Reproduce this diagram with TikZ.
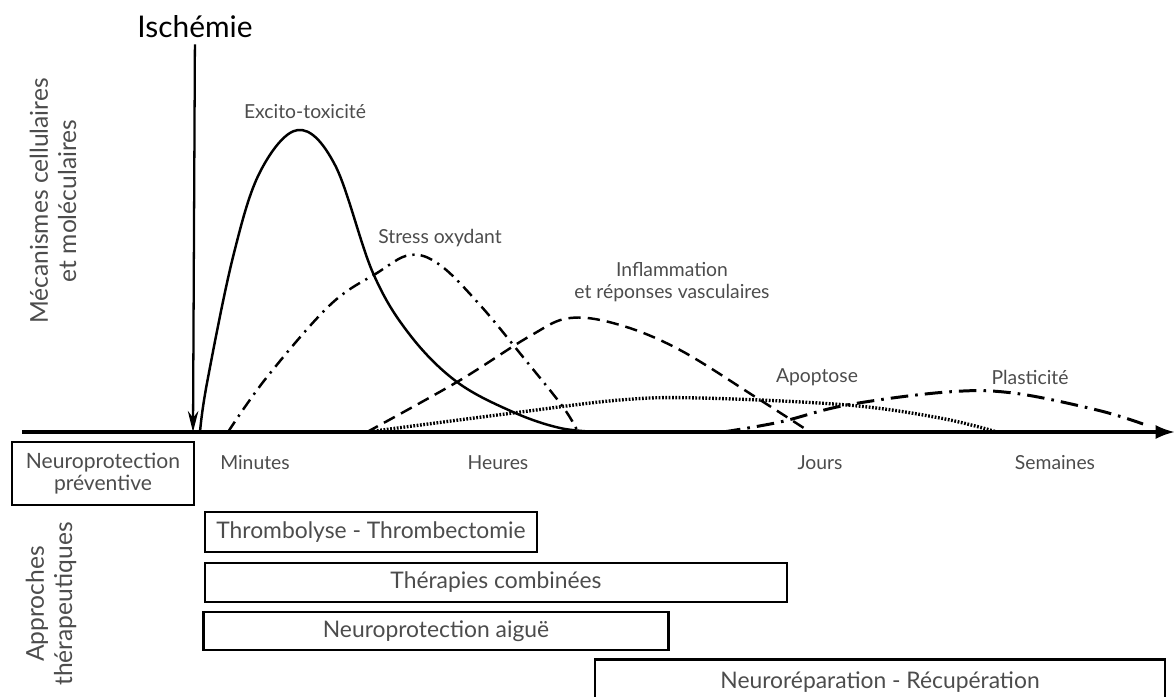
\documentclass[tikz,border=0pt]{standalone}
\usepackage{fontspec}
\setmainfont{Lato}
\usetikzlibrary{arrows.meta}
\begin{document}
\begin{tikzpicture}[x=0.02cm,y=-0.02cm,
    lbl/.style={text=black!70,font=\fontsize{11}{13}\selectfont},
    sidelbl/.style={text=black!70,font=\fontsize{14}{16}\selectfont,align=center,rotate=90},
    bar/.style={draw,line width=1.6pt,text=black!70,font=\fontsize{13}{15}\selectfont,inner sep=0pt},
    curve/.style={line width=1.4pt}]
            \clip (0,0) rectangle (1175,696);
            % axe du temps
            \coordinate (O) at (22,432);
            \coordinate (Z) at (1175,432);
            \node (I) at (195,27) {\fontsize{17}{19}\selectfont Isch\'emie};
            \coordinate (B) at (193,432);
            \draw[line width=1.8pt,-{Latex[length=11pt,width=8pt]}] (O) -- (Z);
            \draw[line width=1.3pt,-{Stealth[length=12pt,width=6pt]}] (I) -- (B);
            
            \node[sidelbl] (M) at (53,201) {M\'ecanismes cellulaires\\et mol\'eculaires};
            \node[sidelbl] (A) at (51,604) {Approches\\th\'erapeutiques};
            
            % courbes
            \draw[curve] plot[smooth,tension=0.6] coordinates {(200,432) (207,383) (233,257) (260,172) (298,130) (335,165) (373,273) (410,335) (457,382) (513,412) (560,428) (600,432)};
            \draw[curve,dash pattern=on 7pt off 3.5pt on 1.3pt off 3.5pt] plot[smooth,tension=0.6] coordinates {(228,432) (267,377) (330,305) (377,273) (410,255) (440,265) (480,305) (523,357) (563,407) (578,432)};
            \draw[curve,dash pattern=on 7pt off 4pt] plot[smooth,tension=0.6] coordinates {(367,432) (457,382) (530,336) (570,318) (620,325) (680,350) (757,398) (810,432)};
            \draw[line width=1.9pt,dash pattern=on 1pt off 0.9pt] plot[smooth,tension=0.6] coordinates {(367,432) (513,413) (620,400) (700,398) (847,405) (940,418) (997,432)};
            \draw[line width=1.7pt,dash pattern=on 10pt off 4pt on 1.5pt off 4pt] plot[smooth,tension=0.6] coordinates {(723,432) (780,422) (847,405) (947,392) (1013,393) (1097,410) (1143,424)};
            
            \node[lbl] (E) at (305,112) {Excito-toxicit\'e};
            \node[lbl] (S) at (440,238) {Stress oxydant};
            \node[lbl,align=center] (F) at (672,282) {Inflammation\\et r\'eponses vasculaires};
            \node[lbl] (P) at (817,377) {Apoptose};
            \node[lbl] (Q) at (1030,377) {Plasticit\'e};
            
            % echelle
            \node[lbl] (T1) at (255,463) {Minutes};
            \node[lbl] (T2) at (498,463) {Heures};
            \node[lbl] (T3) at (820,463) {Jours};
            \node[lbl] (T4) at (1055,463) {Semaines};
            
            % approches
            \node[bar,font=\fontsize{12}{13}\selectfont,align=center,minimum width=3.64cm,minimum height=1.26cm] (N) at (103,473.5) {Neuroprotection\\pr\'eventive};
            \node[bar,minimum width=6.64cm,minimum height=0.8cm] (R1) at (371,532) {Thrombolyse - Thrombectomie};
            \node[bar,minimum width=11.64cm,minimum height=0.78cm] (R2) at (496,582.5) {Th\'erapies combin\'ees};
            \node[bar,minimum width=9.3cm,minimum height=0.76cm] (R3) at (436,631) {Neuroprotection aigu\"e};
            \node[bar,minimum width=11.4cm,minimum height=0.9cm] (R4) at (880,682) {Neuror\'eparation - R\'ecup\'eration};
\end{tikzpicture}
\end{document}
